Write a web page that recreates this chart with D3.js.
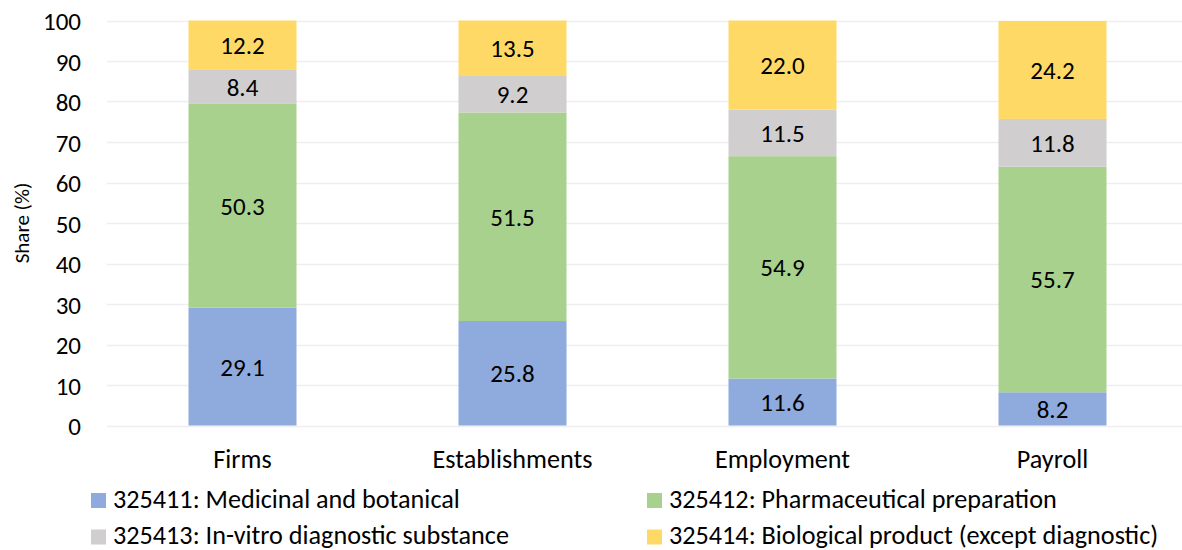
<!DOCTYPE html>
<html>
<head>
<meta charset="utf-8">
<script src="https://cdn.jsdelivr.net/npm/d3@7"></script>
<style>
  html, body { margin: 0; padding: 0; background: #fff; }
  svg { display: block; font-family: Calibri, Carlito, Lato, sans-serif; }
</style>
</head>
<body>
<svg id="chart" width="1182" height="550"></svg>
<script>
// Industry shares by NAICS code across four measures
const categories = ["Firms", "Establishments", "Employment", "Payroll"];
const seriesNames = [
  "325411: Medicinal and botanical",
  "325412: Pharmaceutical preparation",
  "325413: In-vitro diagnostic substance",
  "325414: Biological product (except diagnostic)"
];
const medicinal      = [29.1, 25.8, 11.6, 8.2];
const pharmaceutical = [50.3, 51.5, 54.9, 55.7];
const inVitro        = [8.4, 9.2, 11.5, 11.8];
const biological     = [12.2, 13.5, 22.0, 24.2];
const yTicks = [0, 10, 20, 30, 40, 50, 60, 70, 80, 90, 100];
const colors = ["#8faadc", "#a9d18e", "#d0cece", "#ffd966"];

const NUM_FS = 25;   // numbers: ticks and bar labels
const TXT_FS = 26.2; // category and legend text

const seriesValues = [medicinal, pharmaceutical, inVitro, biological];
const rows = categories.map((c, i) => {
  const r = { category: c };
  seriesNames.forEach((s, k) => { r[s] = seriesValues[k][i]; });
  return r;
});

const svg = d3.select("#chart");
const x = d3.scaleBand().domain(categories).range([107.5, 1187.5]).paddingInner(0.6).paddingOuter(0.3);
const y = d3.scaleLinear().domain([0, 100]).range([425.5, 20.5]);

// gridlines
svg.append("g")
  .selectAll("line")
  .data(yTicks)
  .join("line")
  .attr("x1", 107).attr("x2", 1182)
  .attr("y1", d => Math.round(y(d)) + 0.5).attr("y2", d => Math.round(y(d)) + 0.5)
  .attr("stroke", "#eeeeee").attr("stroke-width", 1.5);

// y axis labels
const yAxis = svg.append("g")
  .attr("transform", "translate(81,0)")
  .call(d3.axisLeft(y).tickValues(yTicks).tickSize(0).tickPadding(0))
  .attr("font-family", null).attr("font-size", null);
yAxis.select(".domain").remove();
yAxis.selectAll("text").attr("font-size", NUM_FS).attr("fill", "#000").attr("dy", "0.36em");

svg.append("text")
  .attr("transform", "translate(29,223) rotate(-90)")
  .attr("text-anchor", "middle")
  .attr("font-size", 21)
  .text("Share (%)");

// stacked bars
const stack = d3.stack().keys(seriesNames);
const layers = stack(rows);

const layerG = svg.append("g")
  .selectAll("g")
  .data(layers)
  .join("g")
  .attr("fill", (d, i) => colors[i]);

layerG.selectAll("rect")
  .data(d => d.map(p => ({ p, key: d.key })))
  .join("rect")
  .attr("x", d => x(d.p.data.category))
  .attr("width", x.bandwidth())
  .attr("y", d => y(d.p[1]))
  .attr("height", d => y(d.p[0]) - y(d.p[1]));

layerG.selectAll("text")
  .data(d => d.map(p => ({ p, key: d.key })))
  .join("text")
  .attr("x", d => x(d.p.data.category) + x.bandwidth() / 2)
  .attr("y", d => (y(d.p[0]) + y(d.p[1])) / 2)
  .attr("dy", "0.36em")
  .attr("text-anchor", "middle")
  .attr("font-size", NUM_FS)
  .attr("fill", "#000")
  .text(d => d.p.data[d.key].toFixed(1));

// category axis
const xAxis = svg.append("g")
  .attr("transform", "translate(0,425)")
  .call(d3.axisBottom(x).tickSize(0))
  .attr("font-family", null).attr("font-size", null);
xAxis.select(".domain").remove();
xAxis.selectAll("text").attr("font-size", TXT_FS).attr("fill", "#000").attr("y", 43).attr("dy", 0);

// legend: [x, square centre y, text baseline y]
const legendPos = [[91, 500.5, 508], [647, 500.5, 508], [91, 537, 544], [647, 537, 544]];
const legend = svg.append("g")
  .selectAll("g")
  .data(seriesNames)
  .join("g")
  .attr("transform", (d, i) => `translate(${legendPos[i][0]},0)`);
legend.append("rect")
  .attr("x", 0).attr("y", (d, i) => legendPos[i][1] - 7.5).attr("width", 15).attr("height", 15)
  .attr("fill", (d, i) => colors[i]);
legend.append("text")
  .attr("x", 22).attr("y", (d, i) => legendPos[i][2])
  .attr("font-size", TXT_FS)
  .text(d => d);
</script>
</body>
</html>
